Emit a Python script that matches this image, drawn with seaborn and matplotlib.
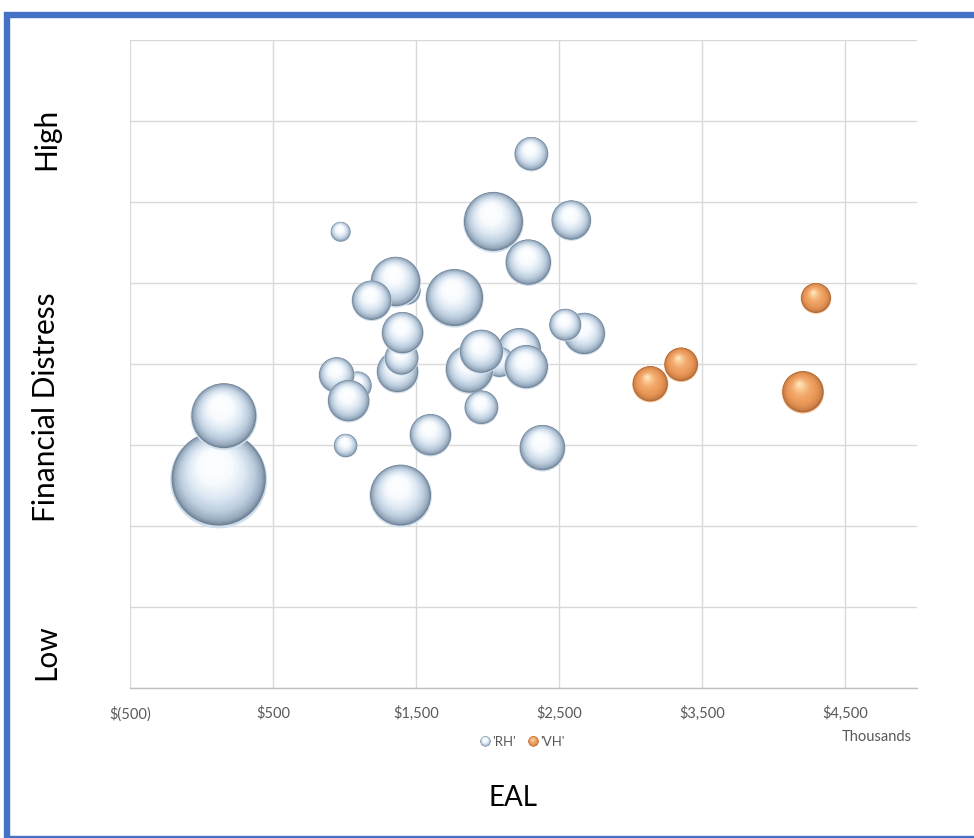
import numpy as np
import pandas as pd
import matplotlib
matplotlib.use("Agg")
import matplotlib.pyplot as plt
import seaborn as sns
from matplotlib.path import Path
from matplotlib.markers import MarkerStyle
from matplotlib.lines import Line2D
from matplotlib.legend_handler import HandlerBase
from matplotlib.patches import Rectangle

# ---- data (EAL in thousands of $, distress score, bubble size) ----
rh_eal = [120, 156, 1391, 2040, 2305, 2584, 972, 2284, 1433, 1356, 1189, 1768,
          1370, 1398, 1405, 1091, 944, 1028, 2221, 2082, 1873, 1956, 2270, 2675,
          2542, 1956, 1600, 2382, 1007]
rh_distress = [2.57, 3.35, 2.37, 5.75, 6.59, 5.77, 5.63, 5.25, 4.90, 5.01, 4.78, 4.81,
               3.90, 4.07, 4.38, 3.73, 3.86, 3.54, 4.17, 4.02, 3.93, 4.15, 3.96, 4.37,
               4.48, 3.46, 3.12, 2.96, 2.99]
rh_size = [230, 109, 96, 90, 29, 40, 10, 53, 20, 63, 40, 84,
           44, 29, 44, 20, 32, 44, 48, 23, 58, 48, 48, 44,
           26, 29, 44, 53, 14]

vh_eal = [3136, 3352, 4203, 4294]
vh_distress = [3.75, 3.99, 3.65, 4.81]
vh_size = [32, 29, 44, 23]

series_names = ["'RH'", "'VH'"]
x_ticks = [-500, 500, 1500, 2500, 3500, 4500]
x_tick_labels = ["$(500)", "$500", "$1,500", "$2,500", "$3,500", "$4,500"]
y_gridlines = [0, 1, 2, 3, 4, 5, 6, 7, 8]

# ---- styling ----
DPI = 100
MAX_BUBBLE_PX = 97          # diameter of the largest bubble
N_LAYERS = 44
GRID = "#d9d9d9"
TEXT_GRAY = "#595959"
FRAME_BLUE = "#4472C4"

sns.set_style("white")
plt.rcParams["font.family"] = ["Lato", "DejaVu Sans"]

# colour ramps for the sphere shading: (t, rgb) from rim to highlight
blue_ramp = [(0.0, (112, 130, 150)), (0.06, (150, 168, 188)), (0.2, (188, 205, 222)),
             (0.4, (222, 233, 244)), (0.62, (248, 251, 254)), (1.0, (255, 255, 255))]
blue_rim = (208, 222, 236)
orange_ramp = [(0.0, (168, 104, 60)), (0.08, (206, 130, 72)), (0.25, (232, 149, 86)),
               (0.55, (243, 170, 108)), (0.8, (251, 204, 150)), (1.0, (255, 238, 208))]
orange_rim = (250, 190, 138)


def ramp_color(ramp, t):
    ts = [p[0] for p in ramp]
    cols = np.array([p[1] for p in ramp], dtype=float)
    return tuple(np.interp(t, ts, cols[:, i]) / 255 for i in range(3)) + (1.0,)


def circle_path(center, radius):
    # anchor vertex keeps all marker paths on a common unit scale
    circ = Path.circle(center=center, radius=radius)
    verts = np.vstack([[[0.5, 0.5]], circ.vertices])
    codes = np.concatenate([[Path.MOVETO], circ.codes])
    return Path(verts, codes)


def sphere_layers(ramp, rim, highlight):
    ts = np.linspace(0, 0.97, N_LAYERS)
    paths = [circle_path((0, 0), 0.5)]
    colors = [tuple(np.array(rim) / 255) + (1.0,)]
    c0 = np.array([0.0, 0.014])
    r0 = 0.486
    hl = np.array(highlight) * 0.5
    for t in ts:
        paths.append(circle_path(c0 + (hl - c0) * t, r0 * (1 - t)))
        colors.append(ramp_color(ramp, t))
    return paths, colors


blue_paths, blue_colors = sphere_layers(blue_ramp, blue_rim, (-0.12, 0.42))
orange_paths, orange_colors = sphere_layers(orange_ramp, orange_rim, (-0.18, 0.42))

size_max = max(max(rh_size), max(vh_size))


def area_pt2(sizes):
    d_px = MAX_BUBBLE_PX * np.sqrt(np.asarray(sizes, float) / size_max)
    return (d_px * 72 / DPI) ** 2


fig = plt.figure(figsize=(9.74, 8.38), dpi=DPI)
ax = fig.add_axes([130 / 974, 1 - 688 / 838, 787 / 974, 648 / 838])
ax.set_axisbelow(True)


def draw_bubbles(eal, distress, sizes, paths, colors):
    k = len(paths)
    long = pd.DataFrame({
        "eal": np.repeat(eal, k),
        "distress": np.repeat(distress, k),
    })
    s = np.repeat(area_pt2(sizes), k)
    c = np.tile(np.array(colors), (len(eal), 1))
    sns.scatterplot(data=long, x="eal", y="distress", s=s, c=c, linewidth=0,
                    ax=ax, legend=False)
    coll = ax.collections[-1]
    coll.set_paths(paths)
    coll.set_edgecolor("none")


draw_bubbles(rh_eal, rh_distress, rh_size, blue_paths, blue_colors)
draw_bubbles(vh_eal, vh_distress, vh_size, orange_paths, orange_colors)

# ---- axes ----
ax.set_xlim(-500, 5000)
ax.set_ylim(0, 8)
ax.set_xticks(x_ticks, labels=x_tick_labels)
ax.set_yticks(y_gridlines)
ax.set_yticklabels([])
ax.grid(True, color=GRID, linewidth=1.0)
ax.tick_params(axis="both", length=0)
ax.tick_params(axis="x", pad=13, labelsize=10.5, labelcolor=TEXT_GRAY)
for side in ["top", "right", "left"]:
    ax.spines[side].set_visible(False)
ax.spines["bottom"].set_color("#bfbfbf")
ax.spines["bottom"].set_linewidth(1.0)
ax.set_xlabel("")
ax.set_ylabel("")

# ---- legend with sphere markers ----
class SphereHandler(HandlerBase):
    def __init__(self, paths, colors, size):
        super().__init__()
        self.paths, self.colors, self.size = paths, colors, size

    def create_artists(self, legend, orig_handle, xdescent, ydescent, width,
                       height, fontsize, trans):
        cx = 0.5 * width - xdescent
        cy = 0.5 * height - ydescent
        arts = []
        for p, col in zip(self.paths, self.colors):
            arts.append(Line2D([cx], [cy], marker=MarkerStyle(p), markersize=self.size,
                               markerfacecolor=col, markeredgewidth=0,
                               linestyle="none", transform=trans))
        return arts


h_rh = Line2D([], [])
h_vh = Line2D([], [])
fig.legend([h_rh, h_vh], series_names, loc="center", bbox_to_anchor=(522 / 974, 1 - 742 / 838),
           ncol=2, frameon=False, fontsize=9.5, labelcolor=TEXT_GRAY,
           handlelength=0.8, handletextpad=0.15, columnspacing=0.9,
           handler_map={h_rh: SphereHandler(blue_paths, blue_colors, 7.5),
                        h_vh: SphereHandler(orange_paths, orange_colors, 7.5)})

# ---- titles and annotations ----
fig.text(912 / 974, 1 - 737 / 838, "Thousands", ha="right", va="center",
         fontsize=10.5, color=TEXT_GRAY)
fig.text(513 / 974, 1 - 798 / 838, "EAL", ha="center", va="center",
         fontsize=20, color="black")
fig.text(46 / 974, 1 - 407 / 838, "Financial Distress", ha="center", va="center",
         rotation=90, fontsize=21.5, color="black")
fig.text(46 / 974, 1 - 139 / 838, "High", ha="center", va="center",
         rotation=90, fontsize=21.5, color="black")
fig.text(46 / 974, 1 - 652 / 838, "Low", ha="center", va="center",
         rotation=90, fontsize=21.5, color="black")

# ---- outer frame ----
frame = Rectangle((6.5 / 974, 1 - 839 / 838), 1.1, (839 - 15.5) / 838,
                  transform=fig.transFigure, fill=False, edgecolor=FRAME_BLUE,
                  linewidth=4.6, clip_on=False)
fig.patches.append(frame)

fig.savefig("out.png", dpi=DPI)
